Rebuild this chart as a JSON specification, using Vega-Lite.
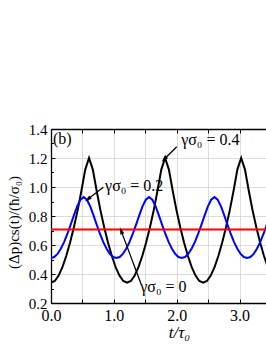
{
  "$schema": "https://vega.github.io/schema/vega-lite/v6.json",
  "width": 215,
  "height": 174,
  "autosize": {"type": "none"},
  "padding": {"left": 51, "top": 129, "right": 0, "bottom": 41},
  "config": {
    "view": {"stroke": null},
    "font": "Liberation Serif",
    "axis": {
      "labelFont": "Liberation Serif",
      "titleFont": "Liberation Serif",
      "labelColor": "#000",
      "titleColor": "#000",
      "domainColor": "#000",
      "domainWidth": 1.3,
      "tickColor": "#000",
      "gridColor": "#d3d3d3",
      "gridWidth": 0.8
    }
  },
  "datasets": {
    "curves": [
      {"s": "0.2", "t": 0.000, "v": 0.510}, {"s": "0.2", "t": 0.052, "v": 0.517}, {"s": "0.2", "t": 0.104, "v": 0.539}, {"s": "0.2", "t": 0.156, "v": 0.574}, {"s": "0.2", "t": 0.208, "v": 0.620}, {"s": "0.2", "t": 0.260, "v": 0.676}, {"s": "0.2", "t": 0.312, "v": 0.739}, {"s": "0.2", "t": 0.364, "v": 0.804}, {"s": "0.2", "t": 0.416, "v": 0.866}, {"s": "0.2", "t": 0.468, "v": 0.912},
      {"s": "0.2", "t": 0.520, "v": 0.930}, {"s": "0.2", "t": 0.572, "v": 0.912}, {"s": "0.2", "t": 0.624, "v": 0.866}, {"s": "0.2", "t": 0.676, "v": 0.804}, {"s": "0.2", "t": 0.728, "v": 0.739}, {"s": "0.2", "t": 0.780, "v": 0.676}, {"s": "0.2", "t": 0.832, "v": 0.620}, {"s": "0.2", "t": 0.884, "v": 0.574}, {"s": "0.2", "t": 0.936, "v": 0.539}, {"s": "0.2", "t": 0.988, "v": 0.517},
      {"s": "0.2", "t": 1.040, "v": 0.510}, {"s": "0.2", "t": 1.092, "v": 0.517}, {"s": "0.2", "t": 1.144, "v": 0.539}, {"s": "0.2", "t": 1.196, "v": 0.574}, {"s": "0.2", "t": 1.248, "v": 0.620}, {"s": "0.2", "t": 1.300, "v": 0.676}, {"s": "0.2", "t": 1.352, "v": 0.739}, {"s": "0.2", "t": 1.404, "v": 0.804}, {"s": "0.2", "t": 1.456, "v": 0.866}, {"s": "0.2", "t": 1.508, "v": 0.912},
      {"s": "0.2", "t": 1.560, "v": 0.930}, {"s": "0.2", "t": 1.612, "v": 0.912}, {"s": "0.2", "t": 1.664, "v": 0.866}, {"s": "0.2", "t": 1.716, "v": 0.804}, {"s": "0.2", "t": 1.768, "v": 0.739}, {"s": "0.2", "t": 1.820, "v": 0.676}, {"s": "0.2", "t": 1.872, "v": 0.620}, {"s": "0.2", "t": 1.924, "v": 0.574}, {"s": "0.2", "t": 1.976, "v": 0.539}, {"s": "0.2", "t": 2.028, "v": 0.517},
      {"s": "0.2", "t": 2.080, "v": 0.510}, {"s": "0.2", "t": 2.132, "v": 0.517}, {"s": "0.2", "t": 2.184, "v": 0.539}, {"s": "0.2", "t": 2.236, "v": 0.574}, {"s": "0.2", "t": 2.288, "v": 0.620}, {"s": "0.2", "t": 2.340, "v": 0.676}, {"s": "0.2", "t": 2.392, "v": 0.739}, {"s": "0.2", "t": 2.444, "v": 0.804}, {"s": "0.2", "t": 2.496, "v": 0.866}, {"s": "0.2", "t": 2.548, "v": 0.912},
      {"s": "0.2", "t": 2.600, "v": 0.930}, {"s": "0.2", "t": 2.652, "v": 0.912}, {"s": "0.2", "t": 2.704, "v": 0.866}, {"s": "0.2", "t": 2.756, "v": 0.804}, {"s": "0.2", "t": 2.808, "v": 0.739}, {"s": "0.2", "t": 2.860, "v": 0.676}, {"s": "0.2", "t": 2.912, "v": 0.620}, {"s": "0.2", "t": 2.964, "v": 0.574}, {"s": "0.2", "t": 3.016, "v": 0.539}, {"s": "0.2", "t": 3.068, "v": 0.517},
      {"s": "0.2", "t": 3.120, "v": 0.510}, {"s": "0.2", "t": 3.172, "v": 0.517}, {"s": "0.2", "t": 3.224, "v": 0.539}, {"s": "0.2", "t": 3.276, "v": 0.574}, {"s": "0.2", "t": 3.328, "v": 0.620}, {"s": "0.2", "t": 3.380, "v": 0.676}, {"s": "0.2", "t": 3.432, "v": 0.739},
      {"s": "0.4", "t": 0.0000, "v": 0.340}, {"s": "0.4", "t": 0.0605, "v": 0.352}, {"s": "0.4", "t": 0.1210, "v": 0.389}, {"s": "0.4", "t": 0.1815, "v": 0.447}, {"s": "0.4", "t": 0.2420, "v": 0.524}, {"s": "0.4", "t": 0.3025, "v": 0.616}, {"s": "0.4", "t": 0.3630, "v": 0.721}, {"s": "0.4", "t": 0.4235, "v": 0.839}, {"s": "0.4", "t": 0.4840, "v": 0.974}, {"s": "0.4", "t": 0.5445, "v": 1.120},
      {"s": "0.4", "t": 0.6050, "v": 1.200}, {"s": "0.4", "t": 0.6655, "v": 1.120}, {"s": "0.4", "t": 0.7260, "v": 0.974}, {"s": "0.4", "t": 0.7865, "v": 0.839}, {"s": "0.4", "t": 0.8470, "v": 0.721}, {"s": "0.4", "t": 0.9075, "v": 0.616}, {"s": "0.4", "t": 0.9680, "v": 0.524}, {"s": "0.4", "t": 1.0285, "v": 0.447}, {"s": "0.4", "t": 1.0890, "v": 0.389}, {"s": "0.4", "t": 1.1495, "v": 0.352},
      {"s": "0.4", "t": 1.2100, "v": 0.340}, {"s": "0.4", "t": 1.2705, "v": 0.352}, {"s": "0.4", "t": 1.3310, "v": 0.389}, {"s": "0.4", "t": 1.3915, "v": 0.447}, {"s": "0.4", "t": 1.4520, "v": 0.524}, {"s": "0.4", "t": 1.5125, "v": 0.616}, {"s": "0.4", "t": 1.5730, "v": 0.721}, {"s": "0.4", "t": 1.6335, "v": 0.839}, {"s": "0.4", "t": 1.6940, "v": 0.974}, {"s": "0.4", "t": 1.7545, "v": 1.120},
      {"s": "0.4", "t": 1.8150, "v": 1.200}, {"s": "0.4", "t": 1.8755, "v": 1.120}, {"s": "0.4", "t": 1.9360, "v": 0.974}, {"s": "0.4", "t": 1.9965, "v": 0.839}, {"s": "0.4", "t": 2.0570, "v": 0.721}, {"s": "0.4", "t": 2.1175, "v": 0.616}, {"s": "0.4", "t": 2.1780, "v": 0.524}, {"s": "0.4", "t": 2.2385, "v": 0.447}, {"s": "0.4", "t": 2.2990, "v": 0.389}, {"s": "0.4", "t": 2.3595, "v": 0.352},
      {"s": "0.4", "t": 2.4200, "v": 0.340}, {"s": "0.4", "t": 2.4805, "v": 0.352}, {"s": "0.4", "t": 2.5410, "v": 0.389}, {"s": "0.4", "t": 2.6015, "v": 0.447}, {"s": "0.4", "t": 2.6620, "v": 0.524}, {"s": "0.4", "t": 2.7225, "v": 0.616}, {"s": "0.4", "t": 2.7830, "v": 0.721}, {"s": "0.4", "t": 2.8435, "v": 0.839}, {"s": "0.4", "t": 2.9040, "v": 0.974}, {"s": "0.4", "t": 2.9645, "v": 1.120},
      {"s": "0.4", "t": 3.0250, "v": 1.200}, {"s": "0.4", "t": 3.0855, "v": 1.120}, {"s": "0.4", "t": 3.1460, "v": 0.974}, {"s": "0.4", "t": 3.2065, "v": 0.839}, {"s": "0.4", "t": 3.2670, "v": 0.721}, {"s": "0.4", "t": 3.3275, "v": 0.616}, {"s": "0.4", "t": 3.3880, "v": 0.524}, {"s": "0.4", "t": 3.4485, "v": 0.447},
      {"s": "0", "t": 0.0, "v": 0.707}, {"s": "0", "t": 3.45, "v": 0.707}
    ],
    "notes": [
      {"t": 0.03, "v": 1.297, "label": "(b)"},
      {"t": 2.07, "v": 1.29, "label": "γσ₀ = 0.4"},
      {"t": 0.86, "v": 0.975, "label": "γσ₀ = 0.2"},
      {"t": 1.42, "v": 0.278, "label": "γσ₀ = 0"}
    ],
    "arrows": [
      {"id": "a4", "t1": 2.0, "v1": 1.278, "t2": 1.80, "v2": 1.191},
      {"id": "a2", "t1": 0.833, "v1": 0.998, "t2": 0.584, "v2": 0.915},
      {"id": "a0", "t1": 1.433, "v1": 0.331, "t2": 1.115, "v2": 0.699}
    ]
  },
  "layer": [
    {
      "data": {"name": "curves"},
      "transform": [{"filter": "datum.s === '0.4'"}],
      "mark": {"type": "line", "color": "#000000", "strokeWidth": 2, "clip": true},
      "encoding": {
        "x": {"field": "t", "type": "quantitative", "scale": {"domain": [0, 3.42], "nice": false},
          "axis": {"orient": "bottom", "values": [0, 0.5, 1, 1.5, 2, 2.5, 3], "grid": true, "ticks": false,
            "labelExpr": "datum.value % 1 === 0 ? format(datum.value, '.1f') : ''", "labelFontSize": 16, "labelPadding": 4,
            "labelFlush": false, "labelOverlap": false,
            "title": "t/τ₀", "titleFontSize": 17, "titleFontStyle": "italic", "titleFontWeight": "normal",
            "titleX": 128, "titleY": 21, "titleBaseline": "top", "titleAlign": "center"}},
        "y": {"field": "v", "type": "quantitative", "scale": {"domain": [0.2, 1.4], "nice": false},
          "axis": {"orient": "left", "values": [0.2, 0.4, 0.6, 0.8, 1.0, 1.2, 1.4], "grid": true, "ticks": false,
            "format": ".1f", "labelFontSize": 15, "labelPadding": 4, "labelFlush": false, "labelOverlap": false,
            "title": "(Δp)cs(t)/(ħ/σ₀)", "titleFontSize": 15, "titleFontWeight": "normal", "titleAngle": -90,
            "titleX": -38, "titleY": 93, "titleAlign": "center", "titleBaseline": "middle"}}
      }
    },
    {
      "data": {"name": "curves"},
      "transform": [{"filter": "datum.s === '0.2'"}],
      "mark": {"type": "line", "color": "#0000ff", "strokeWidth": 2, "clip": true},
      "encoding": {
        "x": {"field": "t", "type": "quantitative", "axis": null},
        "y": {"field": "v", "type": "quantitative", "axis": null}
      }
    },
    {
      "data": {"name": "curves"},
      "transform": [{"filter": "datum.s === '0'"}],
      "mark": {"type": "line", "color": "#ff0000", "strokeWidth": 2, "clip": true},
      "encoding": {
        "x": {"field": "t", "type": "quantitative", "axis": null},
        "y": {"field": "v", "type": "quantitative", "axis": null}
      }
    },
    {
      "data": {"name": "notes"},
      "mark": {"type": "point", "opacity": 0},
      "encoding": {
        "x": {"field": "t", "type": "quantitative",
          "axis": {"orient": "bottom", "values": [0, 0.5, 1, 1.5, 2, 2.5, 3], "grid": false, "labels": false, "domain": false, "ticks": true, "tickSize": -4, "tickWidth": 1, "title": null}},
        "y": {"field": "v", "type": "quantitative",
          "axis": {"orient": "left", "values": [0.2, 0.4, 0.6, 0.8, 1.0, 1.2, 1.4], "grid": false, "labels": false, "domain": false, "ticks": true, "tickSize": -4, "tickWidth": 1, "title": null}}
      }
    },
    {
      "data": {"name": "notes"},
      "mark": {"type": "point", "opacity": 0},
      "encoding": {
        "x": {"field": "t", "type": "quantitative",
          "axis": {"orient": "top", "values": [0, 0.5, 1, 1.5, 2, 2.5, 3], "grid": false, "labels": false, "domain": true, "ticks": true, "tickSize": -4, "tickWidth": 1, "title": null}},
        "y": {"field": "v", "type": "quantitative",
          "axis": {"orient": "left", "values": [0.3, 0.5, 0.7, 0.9, 1.1, 1.3], "grid": false, "labels": false, "domain": false, "ticks": true, "tickSize": -2.5, "tickWidth": 1, "title": null}}
      }
    },
    {
      "data": {"name": "arrows"},
      "mark": {"type": "rule", "color": "#000000", "strokeWidth": 1.3},
      "encoding": {
        "x": {"field": "t1", "type": "quantitative", "axis": null},
        "y": {"field": "v1", "type": "quantitative", "axis": null},
        "x2": {"field": "t2"},
        "y2": {"field": "v2"}
      }
    },
    {
      "data": {"name": "arrows"},
      "transform": [{"filter": "datum.id === 'a4'"}],
      "mark": {"type": "point", "shape": "M0,-1L-0.6,1L0.6,1Z", "filled": true, "color": "#000000", "opacity": 1, "size": 50, "angle": 225},
      "encoding": {
        "x": {"field": "t2", "type": "quantitative", "axis": null},
        "y": {"field": "v2", "type": "quantitative", "axis": null}
      }
    },
    {
      "data": {"name": "arrows"},
      "transform": [{"filter": "datum.id === 'a2'"}],
      "mark": {"type": "point", "shape": "M0,-1L-0.6,1L0.6,1Z", "filled": true, "color": "#000000", "opacity": 1, "size": 50, "angle": 232},
      "encoding": {
        "x": {"field": "t2", "type": "quantitative", "axis": null},
        "y": {"field": "v2", "type": "quantitative", "axis": null}
      }
    },
    {
      "data": {"name": "arrows"},
      "transform": [{"filter": "datum.id === 'a0'"}],
      "mark": {"type": "point", "shape": "M0,-1L-0.6,1L0.6,1Z", "filled": true, "color": "#000000", "opacity": 1, "size": 50, "angle": 339},
      "encoding": {
        "x": {"field": "t2", "type": "quantitative", "axis": null},
        "y": {"field": "v2", "type": "quantitative", "axis": null}
      }
    },
    {
      "data": {"name": "notes"},
      "mark": {"type": "text", "font": "Liberation Serif", "fontSize": 16, "align": "left", "baseline": "alphabetic", "color": "#000000"},
      "encoding": {
        "x": {"field": "t", "type": "quantitative", "axis": null},
        "y": {"field": "v", "type": "quantitative", "axis": null},
        "text": {"field": "label"}
      }
    }
  ],
  "resolve": {"axis": {"x": "independent", "y": "independent"}}
}
